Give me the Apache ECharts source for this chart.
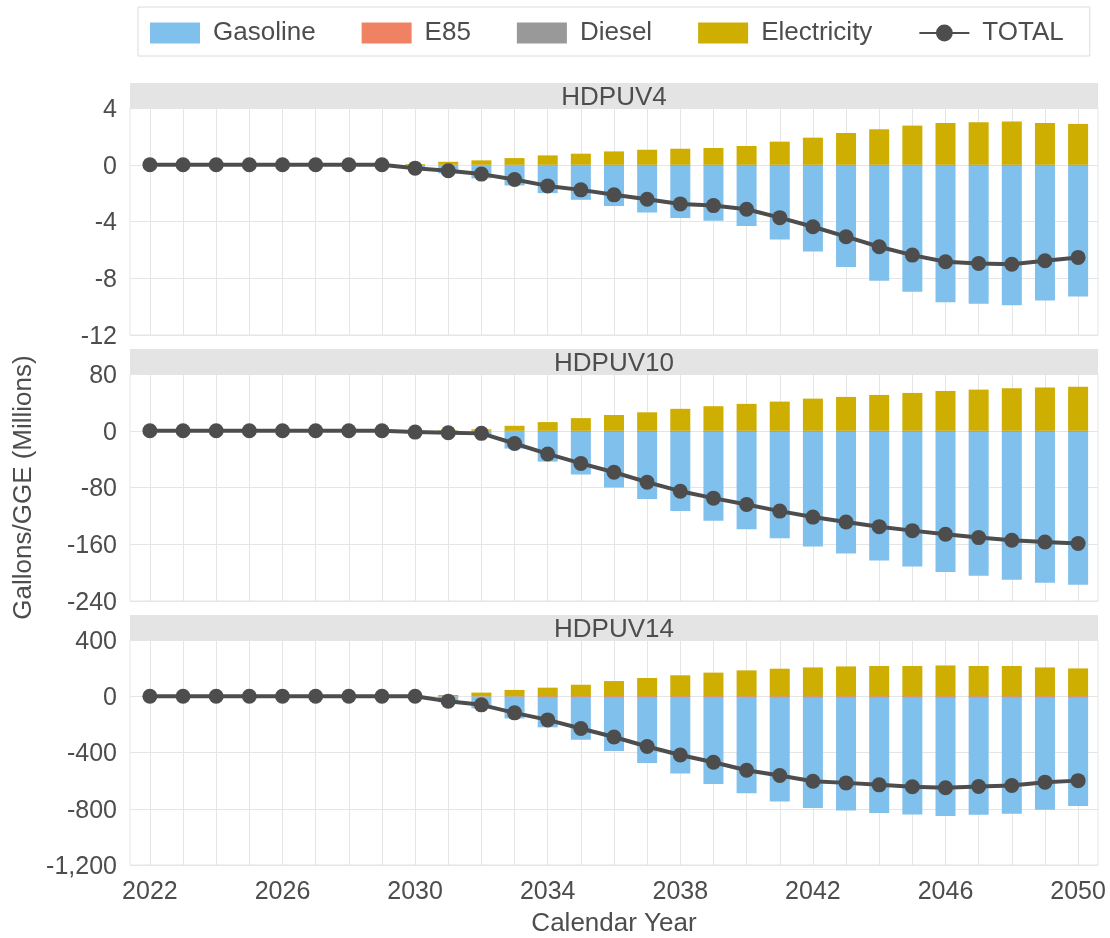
<!DOCTYPE html>
<html>
<head>
<meta charset="utf-8">
<script src="https://cdn.jsdelivr.net/npm/echarts@6/dist/echarts.min.js"></script>
<style>html,body{margin:0;padding:0;background:#fff}#chart{width:1110px;height:938px}</style>
</head>
<body>
<div id="chart"></div>
<script>
// ---------- data ----------
const years = [2022,2023,2024,2025,2026,2027,2028,2029,2030,2031,2032,2033,2034,2035,2036,2037,2038,2039,2040,2041,2042,2043,2044,2045,2046,2047,2048,2049,2050];
const tickYears = [2022,2026,2030,2034,2038,2042,2046,2050];
const panelNames = ['HDPUV4','HDPUV10','HDPUV14'];

// HDPUV4
const gasoline4 = [0,0,0,0,0,0,0,0,-0.30,-0.61,-0.96,-1.46,-2.00,-2.47,-2.91,-3.36,-3.76,-3.94,-4.31,-5.27,-6.12,-7.20,-8.18,-8.96,-9.69,-9.80,-9.90,-9.57,-9.29];
const e85_4 = [0,0,0,0,0,0,0,0,0,-0.01,-0.02,-0.03,-0.04,-0.05,-0.06,-0.06,-0.06,-0.06,-0.06,-0.06,-0.06,-0.06,-0.06,-0.06,-0.06,-0.06,-0.06,-0.06,-0.06];
const diesel4 = [0,0,0,0,0,0,0,0,0,0,0,0,0,0,0,0,0,0,0,0,0,0,0,0,0,0,0,0,0];
const electricity4 = [0,0,0,0,0,0,0,0,0.05,0.21,0.31,0.47,0.66,0.78,0.94,1.06,1.13,1.18,1.32,1.63,1.91,2.24,2.50,2.76,2.95,3.00,3.04,2.95,2.88];
const total4 = [0,0,0,0,0,0,0,0,-0.24,-0.42,-0.66,-1.04,-1.49,-1.77,-2.12,-2.43,-2.76,-2.88,-3.14,-3.73,-4.37,-5.07,-5.78,-6.37,-6.84,-6.96,-7.01,-6.77,-6.53];

// HDPUV10
const gasoline10 = [0,0,0,0,0,0,0,0,-2.2,-3.6,-5.7,-25.1,-43.5,-61.7,-80.0,-96.3,-113.2,-126.7,-138.9,-151.5,-163.2,-173.0,-182.8,-191.2,-199.2,-204.4,-210.0,-214.2,-217.0];
const e85_10 = [0,0,0,0,0,0,0,0,0,0,-0.1,-0.6,-1.2,-1.3,-1.4,-1.5,-1.5,-1.5,-1.5,-1.5,-1.5,-1.5,-1.5,-1.5,-1.5,-1.5,-1.5,-1.5,-1.5];
const diesel10 = [0,0,0,0,0,0,0,0,0,0,0,0,0,0,0,0,0,0,0,0,0,0,0,0,0,0,0,0,0];
const electricity10 = [0,0,0,0,0,0,0,0,0.3,0.8,2.0,7.0,12.2,17.8,22.2,26.0,30.9,34.6,37.9,41.1,45.3,47.7,50.5,53.3,56.1,58.0,59.9,60.8,62.2];
const total10 = [0,0,0,0,0,0,0,0,-1.9,-2.8,-3.7,-18.0,-32.7,-46.0,-58.5,-72.5,-85.2,-95.0,-103.9,-113.3,-121.7,-128.7,-135.2,-140.8,-146.0,-150.6,-154.4,-156.8,-159.0];

// HDPUV14
const gasoline14 = [0,0,0,0,0,0,0,0,0,-43,-86,-158,-221,-309,-390,-474,-549,-624,-690,-748,-795,-812,-831,-840,-851,-843,-835,-807,-781];
const e85_14 = [0,0,0,0,0,0,0,0,0,-1,-2,-3,-6,-5,-6,-6,-6,-6,-6,-7,-7,-7,-7,-7,-8,-7,-7,-7,-7];
const diesel14 = [0,0,0,0,0,0,0,0,0,0,0,0,0,0,0,0,0,0,0,0,0,0,0,0,0,0,0,0,0];
const electricity14 = [0,0,0,0,0,0,0,0,0,9,26,45,61,82,108,130,149,168,184,196,205,212,215,215,219,215,215,205,198];
const total14 = [0,0,0,0,0,0,0,0,0,-35,-61,-118,-168,-229,-290,-357,-418,-469,-526,-564,-604,-616,-630,-644,-651,-642,-635,-611,-600];

const yMin = [-12,-240,-1200];
const yMax = [4,80,400];
const yStep = [4,80,400];

// ---------- chart ----------
const panelData = [
  {gasoline:gasoline4, e85:e85_4, diesel:diesel4, electricity:electricity4, total:total4},
  {gasoline:gasoline10, e85:e85_10, diesel:diesel10, electricity:electricity10, total:total10},
  {gasoline:gasoline14, e85:e85_14, diesel:diesel14, electricity:electricity14, total:total14}
];
const FONT = 'Liberation Sans, Arial, sans-serif';
const TXT = '#4d4d4d';
const GRIDC = '#e5e5e5';
const colors = {Gasoline:'#80c0ec', E85:'#f08264', Diesel:'#999999', Electricity:'#ceae00', TOTAL:'#4d4d4d'};

const L = 130, W = 968, H = 227;
const tops = [108, 374, 640];
const stripTops = [83, 349, 615];

const grids = [], xAxes = [], yAxes = [], series = [], graphics = [];
const pair = arr => years.map((y,k) => [y, arr[k]]);

panelNames.forEach((pn, i) => {
  grids.push({left:L, top:tops[i], width:W, height:H, show:true, borderColor:GRIDC, borderWidth:1, backgroundColor:'transparent', containLabel:false});
  const last = i === 2;
  xAxes.push({
    gridIndex:i, type:'value', min:2021.4, max:2050.6, position:'bottom',
    axisLine:{show:false},
    axisTick:{show:last, length:7, lineStyle:{color:'#d4d4d4', width:1}, customValues:tickYears},
    axisLabel:{show:last, customValues:tickYears, fontSize:25, color:TXT, margin:15, fontFamily:FONT, formatter: v => String(v)},
    splitLine:{show:false},
    name: last ? 'Calendar Year' : '', nameLocation:'middle', nameGap:46,
    nameTextStyle:{fontSize:26, color:TXT, fontFamily:FONT}
  });
  xAxes.push({
    gridIndex:i, type:'value', min:2021.4, max:2050.6, position:'top',
    axisLine:{show:false},
    axisTick:{show:false, customValues:years},
    axisLabel:{show:false, customValues:years},
    splitLine:{show:true, lineStyle:{color:GRIDC, width:1}}
  });
  yAxes.push({
    gridIndex:i, type:'value', min:yMin[i], max:yMax[i], interval:yStep[i],
    axisLine:{show:false}, axisTick:{show:false},
    axisLabel:{fontSize:25, color:TXT, margin:13, fontFamily:FONT,
      formatter: v => '{a|' + v.toLocaleString('en-US') + '}',
      rich:{a:{fontSize:25, color:TXT, fontFamily:FONT, padding:[4,0,0,0]}}},
    splitLine:{show:true, lineStyle:{color:GRIDC, width:1}},
    name: i === 1 ? 'Gallons/GGE (Millions)' : '', nameLocation:'middle', nameGap:93,
    nameTextStyle:{fontSize:26, color:TXT, fontFamily:FONT}
  });
  const d = panelData[i];
  [['Gasoline', d.gasoline], ['E85', d.e85], ['Diesel', d.diesel], ['Electricity', d.electricity]].forEach(([nm, arr]) => {
    series.push({
      name:nm, type:'bar', stack:'s'+i, xAxisIndex:2*i, yAxisIndex:i,
      barWidth:20, data:pair(arr), itemStyle:{color:colors[nm]}, emphasis:{disabled:true}
    });
  });
  series.push({
    name:'TOTAL', type:'line', xAxisIndex:2*i, yAxisIndex:i, data:pair(d.total),
    symbol:'circle', symbolSize:15, showSymbol:true, z:10,
    lineStyle:{color:colors.TOTAL, width:4}, itemStyle:{color:colors.TOTAL}, emphasis:{disabled:true}
  });
  graphics.push({type:'rect', shape:{x:L, y:stripTops[i], width:W, height:25}, style:{fill:'#e4e4e4'}, silent:true});
  graphics.push({type:'text', x:L + W/2, y:stripTops[i] + 14.5, silent:true,
    style:{text:pn, fontSize:26, fontFamily:FONT, fill:TXT, align:'center', verticalAlign:'middle'}});
});

const chart = echarts.init(document.getElementById('chart'), null, {renderer:'canvas'});
chart.setOption({
  animation:false,
  backgroundColor:'#ffffff',
  textStyle:{fontFamily:FONT},
  grid:grids, xAxis:xAxes, yAxis:yAxes, series:series, graphic:graphics,
  legend:{
    left:138, top:7,
    padding:[13,26,10,12],
    borderColor:'#dcdcdc', borderWidth:1,
    itemWidth:50, itemHeight:21, itemGap:46,
    textStyle:{fontSize:26, color:TXT, fontFamily:FONT, padding:[3,0,0,8]},
    data:[{name:'Gasoline', icon:'rect'},{name:'E85', icon:'rect'},{name:'Diesel', icon:'rect'},{name:'Electricity', icon:'rect'},{name:'TOTAL'}],
    selectedMode:false
  }
});
</script>
</body>
</html>
